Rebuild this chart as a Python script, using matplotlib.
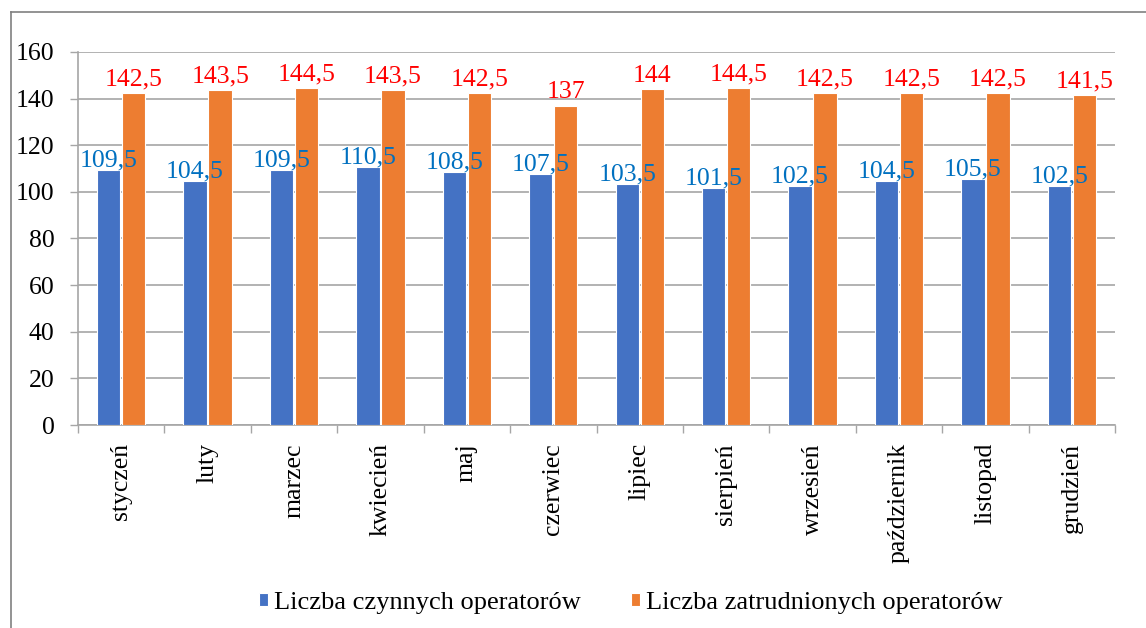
import numpy as np
import matplotlib.pyplot as plt
from matplotlib.lines import Line2D

plt.rcParams['font.family'] = 'serif'
plt.rcParams['font.serif'] = ['Liberation Serif', 'DejaVu Serif']

months = ['styczeń', 'luty', 'marzec', 'kwiecień', 'maj', 'czerwiec',
          'lipiec', 'sierpień', 'wrzesień', 'październik', 'listopad', 'grudzień']
czynni = [109.5, 104.5, 109.5, 110.5, 108.5, 107.5, 103.5, 101.5, 102.5, 104.5, 105.5, 102.5]
zatrudnieni = [142.5, 143.5, 144.5, 143.5, 142.5, 137, 144, 144.5, 142.5, 142.5, 142.5, 141.5]
yticks = [0, 20, 40, 60, 80, 100, 120, 140, 160]

blue = '#4472C4'
orange = '#ED7D31'
grid = '#A6A6A6'

fig = plt.figure(figsize=(11.46, 6.28), dpi=100)
ax = fig.add_axes([78/1146, 1-425/628, (1115-78)/1146, (425-52)/628])

x = np.arange(len(months))
w = 0.27
off = 0.145
b1 = ax.bar(x - off, czynni, w, color=blue, edgecolor='white', linewidth=0.8, zorder=3,
            label='Liczba czynnych operatorów')
b2 = ax.bar(x + off, zatrudnieni, w, color=orange, edgecolor='white', linewidth=0.8, zorder=3,
            label='Liczba zatrudnionych operatorów')

def fmt(v):
    return ('%g' % v).replace('.', ',')

for xi, v in zip(x, czynni):
    ax.annotate(fmt(v), (xi - off, v), xytext=(0, -1), textcoords='offset points',
                ha='center', va='bottom', color='#0070C0', fontsize=18.5, zorder=4)
for xi, v in zip(x, zatrudnieni):
    ax.annotate(fmt(v), (xi + off, v), xytext=(0, 2), textcoords='offset points',
                ha='center', va='bottom', color='#FF0000', fontsize=18.5, zorder=4)

ax.set_xlim(-0.5, len(months) - 0.5)
ax.set_ylim(0, 160)
ax.set_yticks(yticks)
ax.tick_params(axis='y', labelsize=18.5, length=6, color=grid, width=1, pad=11)
ax.yaxis.grid(True, color=grid, linewidth=1.2, zorder=0)
ax.set_xticks(x)
ax.set_xticklabels(months, rotation=90, fontsize=18.5)
ax.set_xticks(np.arange(-0.5, len(months)), minor=True)
ax.tick_params(axis='x', which='major', length=0, pad=13)
ax.tick_params(axis='x', which='minor', length=6, color=grid, width=1)
for s in ['top', 'right']:
    ax.spines[s].set_visible(False)
for s in ['left', 'bottom']:
    ax.spines[s].set_color(grid)
    ax.spines[s].set_linewidth(1.2)

fig.legend(handles=[b1, b2], loc='center', bbox_to_anchor=(631/1146, 1-603/628), ncol=2,
           frameon=False, fontsize=19, handlelength=0.32, handleheight=0.36,
           handletextpad=0.25, columnspacing=1.9)

# outer chart frame (cropped at the right and bottom)
fig.add_artist(Line2D([11/1146, 11/1146], [0, 1-12/628], color='#808080', lw=1.2,
                      transform=fig.transFigure))
fig.add_artist(Line2D([11/1146, 1], [1-12/628, 1-12/628], color='#808080', lw=1.2,
                      transform=fig.transFigure))

fig.savefig('out.png', dpi=100)
